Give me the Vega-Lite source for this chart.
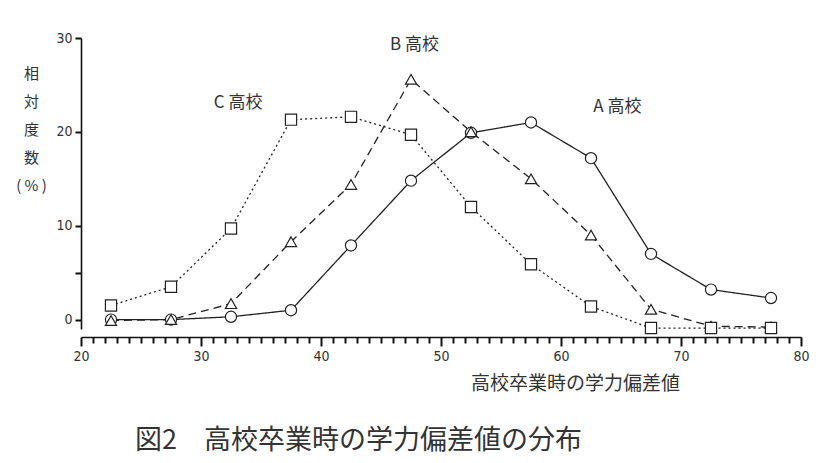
{
  "$schema": "https://vega.github.io/schema/vega-lite/v6.json",
  "width": 720,
  "height": 291,
  "autosize": {"type": "none"},
  "padding": {"left": 81, "top": 38, "right": 27, "bottom": 134},
  "background": "white",
  "config": {
    "view": {"stroke": null},
    "font": "Noto Sans CJK JP",
    "axis": {
      "grid": false,
      "ticks": true,
      "domainColor": "#111",
      "tickColor": "#111",
      "tickOpacity": 1,
      "labelColor": "#333",
      "titleColor": "#333",
      "labelFont": "DejaVu Sans Condensed",
      "labelFontSize": 14,
      "titleFont": "Noto Sans CJK JP",
      "titleFontWeight": "normal",
      "domainWidth": 1.6,
      "tickWidth": 2,
      "labelOverlap": false,
      "labelFlush": false
    }
  },
  "title": {
    "text": "図2　高校卒業時の学力偏差値の分布",
    "orient": "bottom",
    "anchor": "start",
    "frame": "group",
    "dx": 54,
    "offset": 35,
    "fontSize": 27,
    "fontWeight": "normal",
    "color": "#333",
    "font": "Noto Sans CJK JP"
  },
  "datasets": {
    "series": [
      {"x": 22.5, "y": 0, "s": "A"},
      {"x": 27.5, "y": 0, "s": "A"},
      {"x": 32.5, "y": 0.3, "s": "A"},
      {"x": 37.5, "y": 1.0, "s": "A"},
      {"x": 42.5, "y": 7.9, "s": "A"},
      {"x": 47.5, "y": 14.8, "s": "A"},
      {"x": 52.5, "y": 19.9, "s": "A"},
      {"x": 57.5, "y": 21.0, "s": "A"},
      {"x": 62.5, "y": 17.2, "s": "A"},
      {"x": 67.5, "y": 7.0, "s": "A"},
      {"x": 72.5, "y": 3.2, "s": "A"},
      {"x": 77.5, "y": 2.3, "s": "A"},
      {"x": 22.5, "y": -0.1, "s": "B"},
      {"x": 27.5, "y": 0, "s": "B"},
      {"x": 32.5, "y": 1.7, "s": "B"},
      {"x": 37.5, "y": 8.3, "s": "B"},
      {"x": 42.5, "y": 14.4, "s": "B"},
      {"x": 47.5, "y": 25.6, "s": "B"},
      {"x": 52.5, "y": 20.0, "s": "B"},
      {"x": 57.5, "y": 15.0, "s": "B"},
      {"x": 62.5, "y": 9.0, "s": "B"},
      {"x": 67.5, "y": 1.1, "s": "B"},
      {"x": 72.5, "y": -0.7, "s": "B"},
      {"x": 77.5, "y": -0.8, "s": "B"},
      {"x": 22.5, "y": 1.5, "s": "C"},
      {"x": 27.5, "y": 3.5, "s": "C"},
      {"x": 32.5, "y": 9.7, "s": "C"},
      {"x": 37.5, "y": 21.3, "s": "C"},
      {"x": 42.5, "y": 21.6, "s": "C"},
      {"x": 47.5, "y": 19.7, "s": "C"},
      {"x": 52.5, "y": 12.0, "s": "C"},
      {"x": 57.5, "y": 5.9, "s": "C"},
      {"x": 62.5, "y": 1.4, "s": "C"},
      {"x": 67.5, "y": -0.9, "s": "C"},
      {"x": 72.5, "y": -0.9, "s": "C"},
      {"x": 77.5, "y": -0.9, "s": "C"}
    ],
    "labels": [
      {"x": 33.1, "y": 23.1, "t": "C 高校"},
      {"x": 47.8, "y": 29.3, "t": "B 高校"},
      {"x": 64.7, "y": 22.7, "t": "A 高校"}
    ]
  },
  "layer": [
    {
      "data": {"name": "series"},
      "mark": {"type": "line", "strokeWidth": 1.3, "color": "#222"},
      "encoding": {
        "x": {
          "field": "x",
          "type": "quantitative",
          "scale": {"domain": [20, 80], "nice": false, "zero": false},
          "axis": {
            "values": [20,21,22,23,24,25,26,27,28,29,30,31,32,33,34,35,36,37,38,39,40,41,42,43,44,45,46,47,48,49,50,51,52,53,54,55,56,57,58,59,60,61,62,63,64,65,66,67,68,69,70,71,72,73,74,75,76,77,78,79,80],
            "tickCount": 200,
            "format": "d",
            "labelExpr": "datum.value % 10 === 0 ? datum.label : ''",
            "labelOverlap": false,
            "ticks": true,
            "tickSize": {"condition": {"test": "datum.value % 10 === 0", "value": 9}, "value": 6},
            "offset": 8,
            "labelPadding": 3,
            "title": "高校卒業時の学力偏差値",
            "titleFontSize": 19,
            "titleX": 494,
            "titleY": 46,
            "titleAlign": "center",
            "titleBaseline": "middle",
            "titleAnchor": null
          }
        },
        "y": {
          "field": "y",
          "type": "quantitative",
          "scale": {"domain": [-1, 30], "nice": false, "zero": false},
          "axis": {
            "values": [0, 5, 10, 20, 30],
            "tickCount": 50,
            "format": "d",
            "labelExpr": "datum.value % 10 === 0 ? datum.label : ''",
            "labelOverlap": false,
            "ticks": true,
            "tickSize": 6,
            "labelPadding": 3,
            "title": ["相", "対", "度", "数", "( % )"],
            "titleFontSize": 15,
            "titleAngle": 0,
            "titleX": -50,
            "titleY": 28,
            "titleAlign": "center",
            "titleBaseline": "top",
            "titleLineHeight": 28,
            "titleAnchor": null
          }
        },
        "strokeDash": {
          "field": "s",
          "type": "nominal",
          "scale": {"domain": ["A", "B", "C"], "range": [[1, 0], [8, 5], [2, 3]]},
          "legend": null
        }
      }
    },
    {
      "data": {"name": "series"},
      "mark": {"type": "point", "filled": true, "fill": "white", "stroke": "#222", "strokeWidth": 1.2, "opacity": 1, "size": 125},
      "encoding": {
        "x": {"field": "x", "type": "quantitative"},
        "y": {"field": "y", "type": "quantitative"},
        "shape": {
          "field": "s",
          "type": "nominal",
          "scale": {"domain": ["A", "B", "C"], "range": ["circle", "triangle-up", "square"]},
          "legend": null
        }
      }
    },
    {
      "data": {"name": "labels"},
      "mark": {"type": "text", "fontSize": 17, "color": "#333", "font": "Noto Sans CJK JP"},
      "encoding": {
        "x": {"field": "x", "type": "quantitative"},
        "y": {"field": "y", "type": "quantitative"},
        "text": {"field": "t", "type": "nominal"}
      }
    }
  ]
}
